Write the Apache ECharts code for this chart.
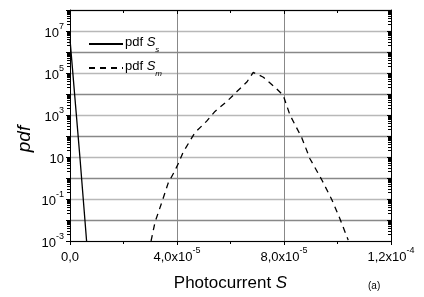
<!DOCTYPE html>
<html><head><meta charset="utf-8">
<script src="https://cdn.jsdelivr.net/npm/echarts@6/dist/echarts.min.js"></script>
<style>html,body{margin:0;padding:0;background:#fff}#c{width:424px;height:297px}</style>
</head><body><div id="c"></div>
<script>
// Data
var ssX = [0, 3.7e-6, 6.2e-6];
var ssY = [4e6, 10, 1e-3];
var smX = [3.03e-5, 3.18e-5, 3.43e-5, 3.67e-5, 3.90e-5, 4.05e-5, 4.23e-5, 4.49e-5, 4.67e-5, 5.11e-5, 5.42e-5, 5.86e-5, 6.23e-5, 6.61e-5, 6.85e-5, 7.23e-5, 7.66e-5, 7.97e-5, 8.22e-5, 8.66e-5, 8.97e-5, 9.41e-5, 9.78e-5, 1.009e-4, 1.04e-4];
var smY = [1e-3, 8e-3, 0.068, 0.57, 2.0, 4.9, 17, 60, 145, 510, 1480, 4350, 1.27e4, 3.7e4, 1.07e5, 6.3e4, 2.1e4, 8700, 1020, 85, 8.3, 0.83, 0.098, 0.0115, 1.1e-3];
// Tick labels
var xTickValues = [0, 4e-5, 8e-5, 1.2e-4];
var xTickMant = ['0,0', '4,0', '8,0', '1,2'];
var xTickExp = ['', '-5', '-5', '-4'];
var yLabelExp = [7, 5, 3, 1, -1, -3];
var legendNames = ['pdf S_s', 'pdf S_m'];

var FONT = 'Liberation Sans';
function zip(a, b) { return a.map(function (v, i) { return [v, b[i]]; }); }

var supRich = {
  b: { fontSize: 13, fontFamily: FONT, color: '#000', lineHeight: 18, verticalAlign: 'bottom' },
  s: { fontSize: 9, fontFamily: FONT, color: '#000', lineHeight: 18, verticalAlign: 'top' }
};

function xFmt(v) {
  for (var i = 0; i < xTickValues.length; i++) {
    if (Math.abs(v - xTickValues[i]) < 1e-7) {
      return xTickExp[i] ? '{b|' + xTickMant[i] + 'x10}{s|' + xTickExp[i] + '}' : '{b|' + xTickMant[i] + '}';
    }
  }
  return '';
}
function yFmt(v) {
  var e = Math.round(Math.log10(v));
  if (yLabelExp.indexOf(e) < 0) return '';
  if (e === 1) return '{b|10}';
  return '{b|10}{s|' + e + '}';
}

var chart = echarts.init(document.getElementById('c'), null, { renderer: 'canvas' });
chart.setOption({
  animation: false,
  backgroundColor: '#fff',
  grid: { left: 70, right: 33, top: 10, bottom: 50 },
  legend: {
    orient: 'vertical', left: 83, top: 29, itemWidth: 34, itemHeight: 14, itemGap: 4,
    itemStyle: { opacity: 0 },
    data: [ { name: legendNames[0] }, { name: legendNames[1] } ],
    formatter: function (n) {
      var p = n.split('_');
      return '{t|pdf }{i|S}{sub|' + p[1] + '}';
    },
    textStyle: {
      fontFamily: FONT, fontSize: 13, color: '#000', padding: [0, 0, 0, -3],
      rich: {
        t: { fontSize: 13, fontFamily: FONT, color: '#000', lineHeight: 20, verticalAlign: 'top', padding: [2, 0, 0, 0] },
        i: { fontSize: 13, fontFamily: FONT, color: '#000', fontStyle: 'italic', lineHeight: 20, verticalAlign: 'top', padding: [2, 0, 0, 0] },
        sub: { fontSize: 8, fontFamily: FONT, color: '#000', fontStyle: 'italic', lineHeight: 20, verticalAlign: 'bottom' }
      }
    }
  },
  xAxis: [{
    type: 'value', min: 0, max: 1.2e-4, interval: 4e-5, position: 'bottom',
    name: '{n|Photocurrent }{i|S}', nameLocation: 'middle', nameGap: 34,
    nameTextStyle: { rich: {
      n: { fontSize: 17, fontFamily: FONT, color: '#000' },
      i: { fontSize: 17, fontFamily: FONT, color: '#000', fontStyle: 'italic' } } },
    axisLine: { show: true, onZero: false, lineStyle: { color: '#000', width: 1 } },
    axisTick: { show: true, inside: false, length: 4, lineStyle: { color: '#000' } },
    minorTick: { show: true, splitNumber: 2, length: 3, lineStyle: { color: '#000' } },
    axisLabel: { formatter: xFmt, margin: 5, rich: supRich, showMaxLabel: true, showMinLabel: true },
    splitLine: { show: true, lineStyle: { color: '#888', width: 1 } }
  }, {
    type: 'value', min: 0, max: 1.2e-4, interval: 4e-5, position: 'top',
    axisLine: { show: true, onZero: false, lineStyle: { color: '#000', width: 1 } },
    axisTick: { show: true, inside: true, length: 4, lineStyle: { color: '#000' } },
    minorTick: { show: true, splitNumber: 2, length: 3, lineStyle: { color: '#000' } },
    axisLabel: { show: false }, splitLine: { show: false }
  }],
  yAxis: [{
    type: 'log', logBase: 10, min: 1e-3, max: 1e8, interval: 1, position: 'left',
    axisLine: { show: true, onZero: false, lineStyle: { color: '#000', width: 1 } },
    axisTick: { show: true, inside: false, length: 4, lineStyle: { color: '#000' } },
    minorTick: { show: true, splitNumber: 9, length: 3, lineStyle: { color: '#000' } },
    axisLabel: { formatter: yFmt, margin: 6, rich: supRich },
    splitLine: { show: true, lineStyle: { color: ['#b8b8b8', '#888'], width: 1.3 } }
  }, {
    type: 'log', logBase: 10, min: 1e-3, max: 1e8, interval: 1, position: 'right',
    axisLine: { show: true, onZero: false, lineStyle: { color: '#000', width: 1 } },
    axisTick: { show: true, inside: true, length: 4, lineStyle: { color: '#000' } },
    minorTick: { show: true, splitNumber: 9, length: 3, lineStyle: { color: '#000' } },
    axisLabel: { show: false }, splitLine: { show: false }
  }],
  series: [{
    name: legendNames[0], type: 'line', xAxisIndex: 0, yAxisIndex: 0,
    data: zip(ssX, ssY), symbol: 'none', clip: true,
    lineStyle: { color: '#000', width: 1.3, type: 'solid' },
    itemStyle: { color: '#000' }
  }, {
    name: legendNames[1], type: 'line', xAxisIndex: 0, yAxisIndex: 0,
    data: zip(smX, smY), symbol: 'none', clip: true,
    lineStyle: { color: '#000', width: 1.3, type: [6, 5] },
    itemStyle: { color: '#000' }
  }],
  graphic: [{
    type: 'text', x: 25, y: 139, rotation: Math.PI / 2,
    style: { text: 'pdf', fontSize: 19, fontFamily: FONT, fontStyle: 'italic', fill: '#000', align: 'center', verticalAlign: 'middle' }
  }, {
    type: 'text', left: 368, top: 281,
    style: { text: '(a)', fontSize: 10, fontFamily: FONT, fill: '#000' }
  }]
});
</script></body></html>
